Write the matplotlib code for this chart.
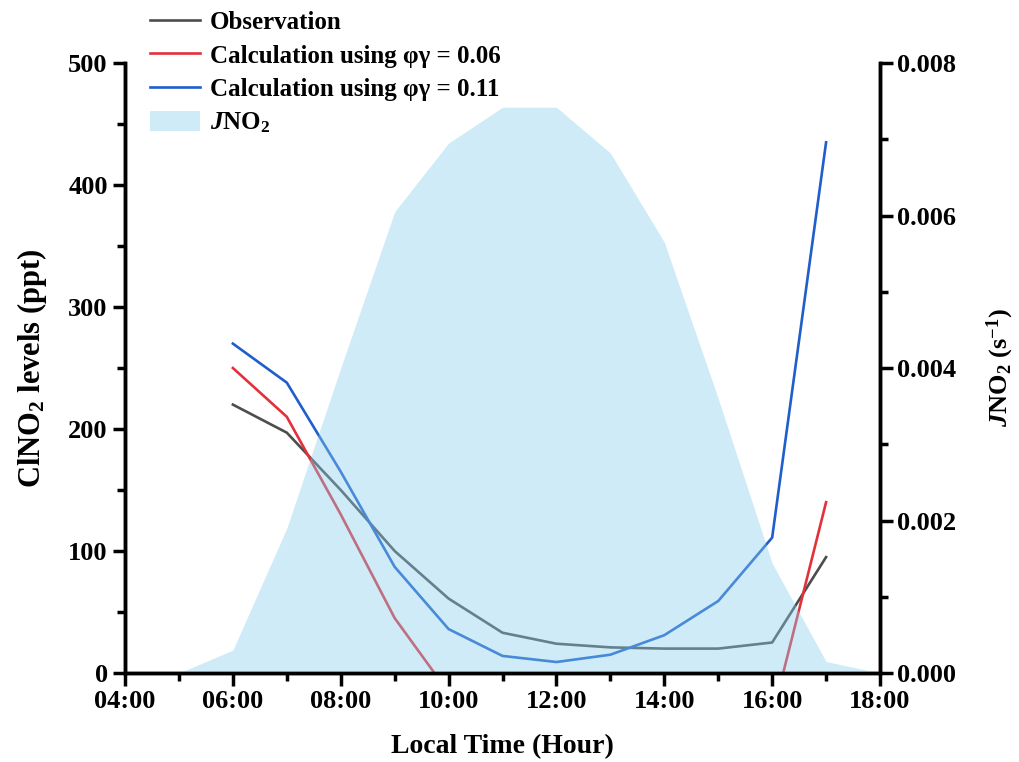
import numpy as np
import matplotlib
matplotlib.use('Agg')
import matplotlib.pyplot as plt
from matplotlib.lines import Line2D
from matplotlib.patches import Patch
from matplotlib.ticker import MultipleLocator, FuncFormatter

plt.rcParams['font.family'] = 'Liberation Serif'
plt.rcParams['font.weight'] = 'bold'
plt.rcParams['mathtext.fontset'] = 'custom'
plt.rcParams['mathtext.rm'] = 'Liberation Serif:bold'
plt.rcParams['mathtext.it'] = 'Liberation Serif:bold:italic'
plt.rcParams['mathtext.bf'] = 'Liberation Serif:bold'

# hourly ClNO2 (ppt), 06:00 - 17:00
hours = np.arange(6, 18)
obs = [220, 197, 150, 100, 61, 33, 24, 21, 20, 20, 25, 95]
calc_006 = [250, 210, 130, 45, -16, np.nan, np.nan, np.nan, np.nan, np.nan, -36, 140]
calc_011 = [270, 238, 165, 87, 36, 14, 9, 15, 31, 59, 111, 435]

# NO2 photolysis frequency (s-1), 05:00 - 18:00
j_hours = np.arange(5, 19)
jno2 = [0.0, 0.0003, 0.0019, 0.0040, 0.00605, 0.00695, 0.00742, 0.00742,
        0.00682, 0.00565, 0.0036, 0.00144, 0.00015, 0.0]

fig, ax = plt.subplots(figsize=(10.19, 7.62), dpi=100)
fig.subplots_adjust(left=0.1227, right=0.8636, bottom=0.1168, top=0.9173)

c_obs = '#4d4d4d'
c_red = '#e3313b'
c_blue = '#1f5ecb'

ax.plot(hours, obs, color=c_obs, lw=1.9)
ax.plot(hours, calc_006, color=c_red, lw=1.9)
ax.plot(hours, calc_011, color=c_blue, lw=1.9)

ax.set_xlim(4, 18)
ax.set_ylim(0, 500)

# JNO2 shaded on the secondary axis, on top of the lines
ax2 = ax.twinx()
ax2.fill_between(j_hours, jno2, 0, color='#87CEEB', alpha=0.4, lw=0)
ax2.set_ylim(0, 0.008)

ax.xaxis.set_major_locator(MultipleLocator(2))
ax.xaxis.set_minor_locator(MultipleLocator(1))
ax.xaxis.set_major_formatter(FuncFormatter(lambda v, _: f'{int(v):02d}:00'))
ax.yaxis.set_major_locator(MultipleLocator(100))
ax.yaxis.set_minor_locator(MultipleLocator(50))
ax2.yaxis.set_major_locator(MultipleLocator(0.002))
ax2.yaxis.set_minor_locator(MultipleLocator(0.001))
ax2.yaxis.set_major_formatter(FuncFormatter(lambda v, _: f'{v:.3f}'))

for a in (ax, ax2):
    a.spines['top'].set_visible(False)
    for s in a.spines.values():
        s.set_linewidth(2.5)
    a.tick_params(which='major', direction='out', length=9, width=2.5, labelsize=19)
    a.tick_params(which='minor', direction='out', length=6, width=2.5)

ax.set_xlabel('Local Time (Hour)', fontsize=20, fontweight='bold', labelpad=15)
ax.set_ylabel('ClNO$_2$ levels (ppt)', fontsize=22, fontweight='bold', labelpad=14)
ax2.set_ylabel('$J$NO$_2$ (s$^{-1}$)', fontsize=19, fontweight='bold', labelpad=20)

handles = [
    Line2D([], [], color=c_obs, lw=1.9),
    Line2D([], [], color=c_red, lw=1.9),
    Line2D([], [], color=c_blue, lw=1.9),
    Patch(facecolor='#87CEEB', alpha=0.4, lw=0),
]
labels = ['Observation', 'Calculation using φγ = 0.06',
          'Calculation using φγ = 0.11', '$J$NO$_2$']
leg = ax2.legend(handles, labels, loc='upper left', bbox_to_anchor=(0.1374, 1.0),
                 bbox_transform=fig.transFigure, frameon=False, fontsize=18,
                 handlelength=2.0, handleheight=0.9, handletextpad=0.4,
                 labelspacing=0.38, borderaxespad=0)

fig.savefig('out.png', dpi=100)
